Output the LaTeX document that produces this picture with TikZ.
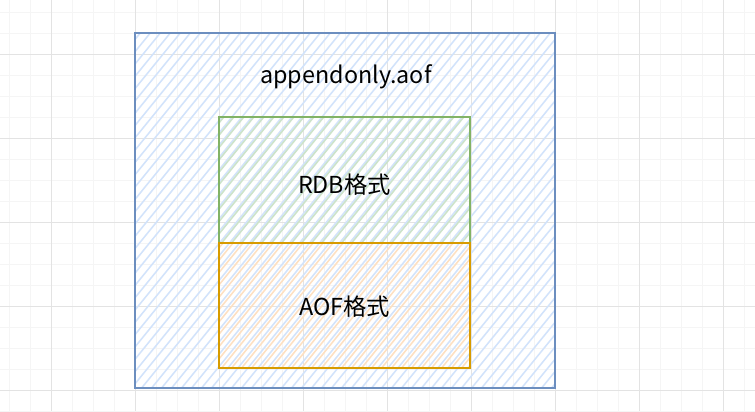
\documentclass[tikz,border=0pt]{standalone}
\usepackage{fontspec}
\setmainfont{Noto Sans CJK SC}
\begin{document}
\begin{tikzpicture}[x=0.75pt,y=-0.75pt,
  minorgrid/.style={draw=black!4,line width=0.75pt},
  majorgrid/.style={draw=black!11,line width=0.75pt},
  lbl/.style={font=\fontsize{17.5}{21}\selectfont,text=black,inner sep=0pt},
]
\definecolor{bstroke}{HTML}{6C8EBF}
\definecolor{bfill}{HTML}{D2E3FB}
\definecolor{gstroke}{HTML}{82B366}
\definecolor{gfill}{HTML}{CCE3CA}
\definecolor{ostroke}{HTML}{D79B00}
\definecolor{ofill}{HTML}{FDE0C2}
\useasboundingbox (0,0) rectangle (755,411);
\fill[white] (0,0) rectangle (755,411);
% grid
\foreach \x in {9,30,...,755} \draw[minorgrid] (\x,0) -- (\x,411);
\foreach \y in {12,33,...,411} \draw[minorgrid] (0,\y) -- (755,\y);
\foreach \x in {51,135,...,755} \draw[majorgrid] (\x,0) -- (\x,411);
\foreach \y in {54,138,...,411} \draw[majorgrid] (0,\y) -- (755,\y);
% outer box
\coordinate (o1) at (135,33);
\coordinate (o2) at (555,388);
\begin{scope}
  \clip (o1) rectangle (o2);
  \foreach \i in {-300,-290,...,560}
    \draw[bfill,line width=1.15pt] (\i,390) -- ++(300,-369);
\end{scope}
\draw[bstroke,line width=1.8pt] (o1) rectangle (o2);
\node[lbl] (fname) at (346,77) {appendonly.aof};
% green box
\coordinate (g1) at (219,117);
\coordinate (g2) at (470,243);
\begin{scope}
  \clip (g1) rectangle (g2);
  \foreach \i in {-100,-90,...,480}
    \draw[gfill,line width=1.15pt] (\i,245) -- ++(150,-185);
\end{scope}
\draw[gstroke,line width=1.6pt] (g1) rectangle (g2);
\node[lbl] (rdb) at (344.5,185) {RDB格式};
% orange box
\coordinate (a1) at (219,243);
\coordinate (a2) at (470,368);
\begin{scope}
  \clip (a1) rectangle (a2);
  \foreach \i in {-100,-90,...,480}
    \draw[ofill,line width=1.15pt] (\i,370) -- ++(150,-185);
\end{scope}
\draw[ostroke,line width=1.8pt] (a1) rectangle (a2);
\node[lbl] (aof) at (344.5,307) {AOF格式};
\end{tikzpicture}
\end{document}
